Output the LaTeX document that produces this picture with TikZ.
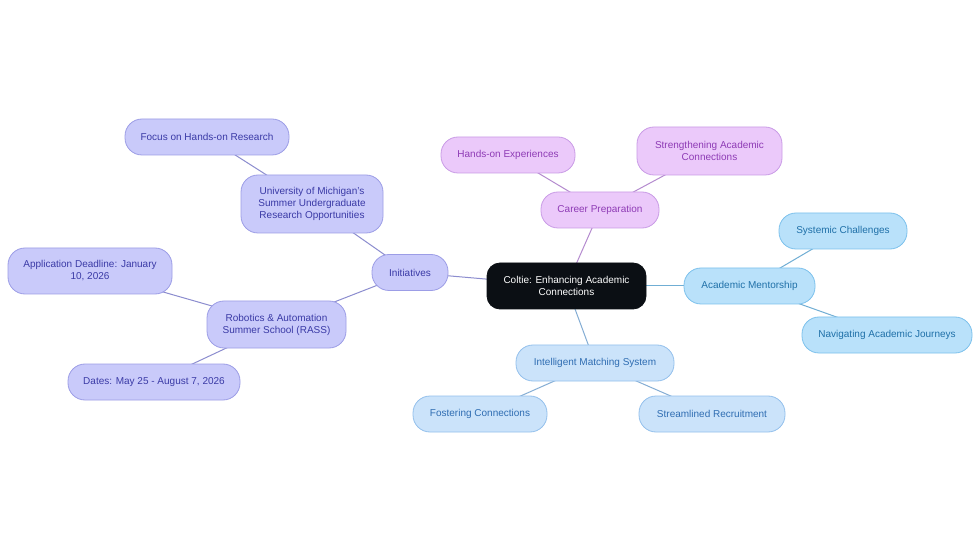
\documentclass[tikz,border=0pt]{standalone}
\usepackage{fontspec}
\setmainfont{Liberation Sans}
\usetikzlibrary{backgrounds}
\definecolor{pbFill}{HTML}{C9CAFA}
\definecolor{pbDraw}{HTML}{9C9DE6}
\definecolor{pbText}{HTML}{3A3AA6}
\definecolor{pkFill}{HTML}{EBC9FA}
\definecolor{pkDraw}{HTML}{C99BE6}
\definecolor{pkText}{HTML}{8E3BB5}
\definecolor{amFill}{HTML}{B9E1FA}
\definecolor{amDraw}{HTML}{7CC1EC}
\definecolor{amText}{HTML}{1F70A8}
\definecolor{imFill}{HTML}{CBE3FA}
\definecolor{imDraw}{HTML}{93C0EC}
\definecolor{imText}{HTML}{2F6DB2}
\definecolor{ctFill}{HTML}{0B0F14}
\tikzset{
  box/.style={rounded corners=17pt, line width=0.8pt, align=center, inner sep=0pt,
    font=\fontsize{10}{12}\selectfont},
  pb/.style={box, fill=pbFill, draw=pbDraw, text=pbText},
  pk/.style={box, fill=pkFill, draw=pkDraw, text=pkText},
  am/.style={box, fill=amFill, draw=amDraw, text=amText},
  im/.style={box, fill=imFill, draw=imDraw, text=imText},
  ctr/.style={box, rounded corners=13pt, fill=ctFill, draw=ctFill, text=white},
  pbE/.style={draw=pbDraw!90!black, line width=1pt},
  pkE/.style={draw=pkDraw!90!black, line width=1pt},
  amE/.style={draw=amDraw!90!black, line width=1pt},
  imE/.style={draw=imDraw!90!black, line width=1pt},
}
\begin{document}
\begin{tikzpicture}[x=1pt,y=-1pt]
\useasboundingbox (0,0) rectangle (980,553);
\node[ctr, minimum width=159pt, minimum height=46pt] (c) at (566.5,286) {Coltie: Enhancing Academic\\Connections};
\node[pb, minimum width=76pt, minimum height=36pt] (ini) at (410,272.5) {Initiatives};
\node[pb, minimum width=142pt, minimum height=58pt] (um) at (312,204) {University of Michigan's\\Summer Undergraduate\\Research Opportunities};
\node[pb, minimum width=164pt, minimum height=36pt] (fh) at (207,137) {Focus on Hands-on Research};
\node[pb, minimum width=139pt, minimum height=47pt] (ra) at (276.5,324.5) {Robotics \& Automation\\Summer School (RASS)};
\node[pb, minimum width=164pt, minimum height=46pt] (ad) at (90,271) {Application Deadline: January\\10, 2026};
\node[pb, minimum width=172pt, minimum height=36pt] (dt) at (154,382) {Dates: May 25 - August 7, 2026};
\node[pk, minimum width=118pt, minimum height=36pt] (cp) at (600,210) {Career Preparation};
\node[pk, minimum width=134pt, minimum height=36pt] (he) at (508,155) {Hands-on Experiences};
\node[pk, minimum width=145pt, minimum height=48pt] (sa) at (709.5,151) {Strengthening Academic\\Connections};
\node[am, minimum width=131pt, minimum height=36pt] (amn) at (749.5,286) {Academic Mentorship};
\node[am, minimum width=128pt, minimum height=36pt] (sc) at (843,231) {Systemic Challenges};
\node[am, minimum width=170pt, minimum height=36pt] (nv) at (887,335) {Navigating Academic Journeys};
\node[im, minimum width=158pt, minimum height=36pt] (ims) at (595,363) {Intelligent Matching System};
\node[im, minimum width=134pt, minimum height=36pt] (fc) at (480,414) {Fostering Connections};
\node[im, minimum width=146pt, minimum height=36pt] (sr) at (712,414) {Streamlined Recruitment};
\begin{pgfonlayer}{background}
\fill[white] (0,0) rectangle (980,553);
\draw[pbE] (c.center) -- (ini.center);
\draw[pbE] (ini.center) -- (um.center);
\draw[pbE] (um.center) -- (fh.center);
\draw[pbE] (ini.center) -- (ra.center);
\draw[pbE] (ra.center) -- (ad.center);
\draw[pbE] (ra.center) -- (dt.center);
\draw[pkE] (c.center) -- (cp.center);
\draw[pkE] (cp.center) -- (he.center);
\draw[pkE] (cp.center) -- (sa.center);
\draw[amE] (c.center) -- (amn.center);
\draw[amE] (amn.center) -- (sc.center);
\draw[amE] (amn.center) -- (nv.center);
\draw[imE] (c.center) -- (ims.center);
\draw[imE] (ims.center) -- (fc.center);
\draw[imE] (ims.center) -- (sr.center);
\end{pgfonlayer}
\end{tikzpicture}
\end{document}
